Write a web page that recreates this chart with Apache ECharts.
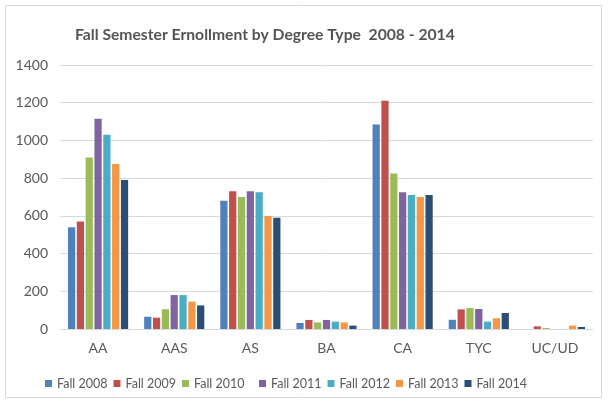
<!DOCTYPE html>
<html><head><meta charset="utf-8">
<script src="https://cdn.jsdelivr.net/npm/echarts@6/dist/echarts.min.js"></script>
<style>html,body{margin:0;padding:0;background:#fff}#c{width:610px;height:404px}</style>
</head><body><div id="c"></div>
<script>
const categories = ['AA','AAS','AS','BA','CA','TYC','UC/UD'];
const seriesNames = ['Fall 2008','Fall 2009','Fall 2010','Fall 2011','Fall 2012','Fall 2013','Fall 2014'];
const fall2008 = [540, 65, 680, 32, 1085, 49, 0];
const fall2009 = [570, 60, 730, 48, 1210, 104, 14];
const fall2010 = [910, 105, 700, 35, 825, 111, 5];
const fall2011 = [1115, 180, 730, 48, 725, 106, 0];
const fall2012 = [1030, 180, 725, 39, 710, 39, 0];
const fall2013 = [875, 145, 600, 35, 700, 57, 18];
const fall2014 = [790, 125, 590, 18, 710, 85, 11];
const yTicks = [0,200,400,600,800,1000,1200,1400];
const colors = ['#4F81BD','#C0504D','#9BBB59','#8064A2','#4BACC6','#F79646','#2C4D75'];
const allData = [fall2008,fall2009,fall2010,fall2011,fall2012,fall2013,fall2014];

const chart = echarts.init(document.getElementById('c'), null, {renderer:'canvas'});
const font = "Lato, sans-serif";
const legendText = {fontFamily:font, fontSize:12.5, color:'#595959'};
chart.setOption({
  animation:false,
  color: colors,
  title:{text:'Fall Semester Ernollment by Degree Type  2008 - 2014', left:70, top:22,
    textStyle:{fontFamily:font, fontSize:15.7, fontWeight:'bold', color:'#555555'}},
  graphic:[{type:'rect', shape:{x:5.5,y:5.5,width:596,height:392}, style:{fill:'none', stroke:'#d9d9d9', lineWidth:1}}],
  legend:[
    {data:seriesNames.slice(0,3), top:372, left:40, itemWidth:7, itemHeight:7, itemGap:6, icon:'rect', textStyle:legendText},
    {data:seriesNames.slice(3), top:372, left:254, itemWidth:7, itemHeight:7, itemGap:6, icon:'rect', textStyle:legendText}
  ],
  grid:{left:60, right:17, top:65, bottom:75},
  xAxis:{type:'category', data:categories,
    axisLine:{lineStyle:{color:'#d9d9d9'}}, axisTick:{show:false},
    axisLabel:{fontFamily:font, fontSize:14, color:'#595959', margin:12}},
  yAxis:{type:'value', min:0, max:1400, interval:200,
    axisLine:{show:false}, axisTick:{show:false},
    splitLine:{lineStyle:{color:'#d9d9d9'}},
    axisLabel:{fontFamily:font, fontSize:14, color:'#595959', margin:12,
      formatter:v=> yTicks.includes(v)? String(v):''}},
  series: seriesNames.map((n,i)=>({name:n, type:'bar', data:allData[i],
    barGap:'22%', barCategoryGap:'21%', itemStyle:{color:colors[i]}}))
});
</script></body></html>
